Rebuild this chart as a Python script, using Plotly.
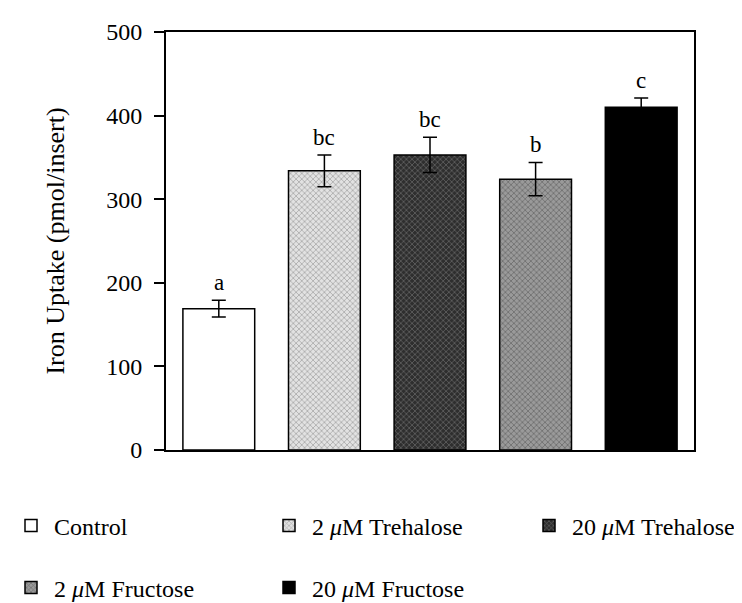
import plotly.graph_objects as go

categories = ["Control", "2 μM Trehalose", "20 μM Trehalose", "2 μM Fructose", "20 μM Fructose"]
legend_labels = ["Control", "2 <i>μ</i>M Trehalose", "20 <i>μ</i>M Trehalose", "2 <i>μ</i>M Fructose", "20 <i>μ</i>M Fructose"]
uptake = [169, 334, 353, 324, 410]
sem = [10, 19, 21, 20, 11]
letters = ["a", "bc", "bc", "b", "c"]
y_ticks = [0, 100, 200, 300, 400, 500]

fills = ["white", "#e2e2e2", "#2e2e2e", "#9a9a9a", "black"]
pat_shapes = ["", "x", "x", "x", ""]
pat_fg = ["black", "#6a6a6a", "#9a9a9a", "#3a3a3a", "black"]
FONT = "Liberation Serif"

# legend placement (column x in px, row y in px)
leg_cols = [0, 258, 518, 0, 258]
leg_rows = [518, 518, 518, 580, 580]
L, R, T, B = 158, 56, 24, 161
W, H = 742, 603
pw, ph = W - L - R, H - T - B

fig = go.Figure()
for i, cat in enumerate(categories):
    lname = "legend" if i == 0 else f"legend{i+1}"
    fig.add_trace(go.Bar(
        x=[i], y=[uptake[i]], width=0.68, name=legend_labels[i],
        marker=dict(color=fills[i], line=dict(color="black", width=1.5),
                    pattern=dict(shape=pat_shapes[i], fgcolor=pat_fg[i], size=4, solidity=0.35)),
        error_y=dict(type="data", array=[sem[i]], visible=True, color="black", thickness=1.5, width=7),
        legend=lname, showlegend=True,
    ))

for i in range(len(categories)):
    fig.add_annotation(x=i, y=uptake[i] + sem[i], text=letters[i], showarrow=False,
                       yanchor="bottom", yshift=3, font=dict(family=FONT, size=23, color="black"))

legends = {}
for i in range(len(categories)):
    key = "legend" if i == 0 else f"legend{i+1}"
    legends[key] = dict(
        x=(leg_cols[i] - L) / pw, xanchor="left",
        y=(T + ph - leg_rows[i]) / ph, yanchor="middle",
        font=dict(family=FONT, size=24, color="black"),
        bgcolor="rgba(0,0,0,0)", borderwidth=0, itemwidth=36,
    )

fig.update_layout(
    width=W, height=H, margin=dict(l=L, r=R, t=T, b=B, autoexpand=False),
    paper_bgcolor="white", plot_bgcolor="white",
    font=dict(family=FONT, color="black"),
    xaxis=dict(range=[-0.5, 4.5], showticklabels=False, ticks="", showgrid=False, zeroline=False,
               showline=True, linecolor="black", linewidth=2, mirror=True, fixedrange=True,
               automargin=False),
    yaxis=dict(range=[0, 500], tickvals=y_ticks, ticks="outside", ticklen=10, tickwidth=2,
               tickcolor="black", showgrid=False, zeroline=False, showline=True, linecolor="black",
               linewidth=2, mirror=True, ticklabelstandoff=7, automargin=False,
               tickfont=dict(family=FONT, size=24, color="black"),
               title=dict(text="Iron Uptake (pmol/insert)", standoff=34,
                          font=dict(family=FONT, size=26, color="black"))),
    **legends,
)

fig.write_html("out.html")
